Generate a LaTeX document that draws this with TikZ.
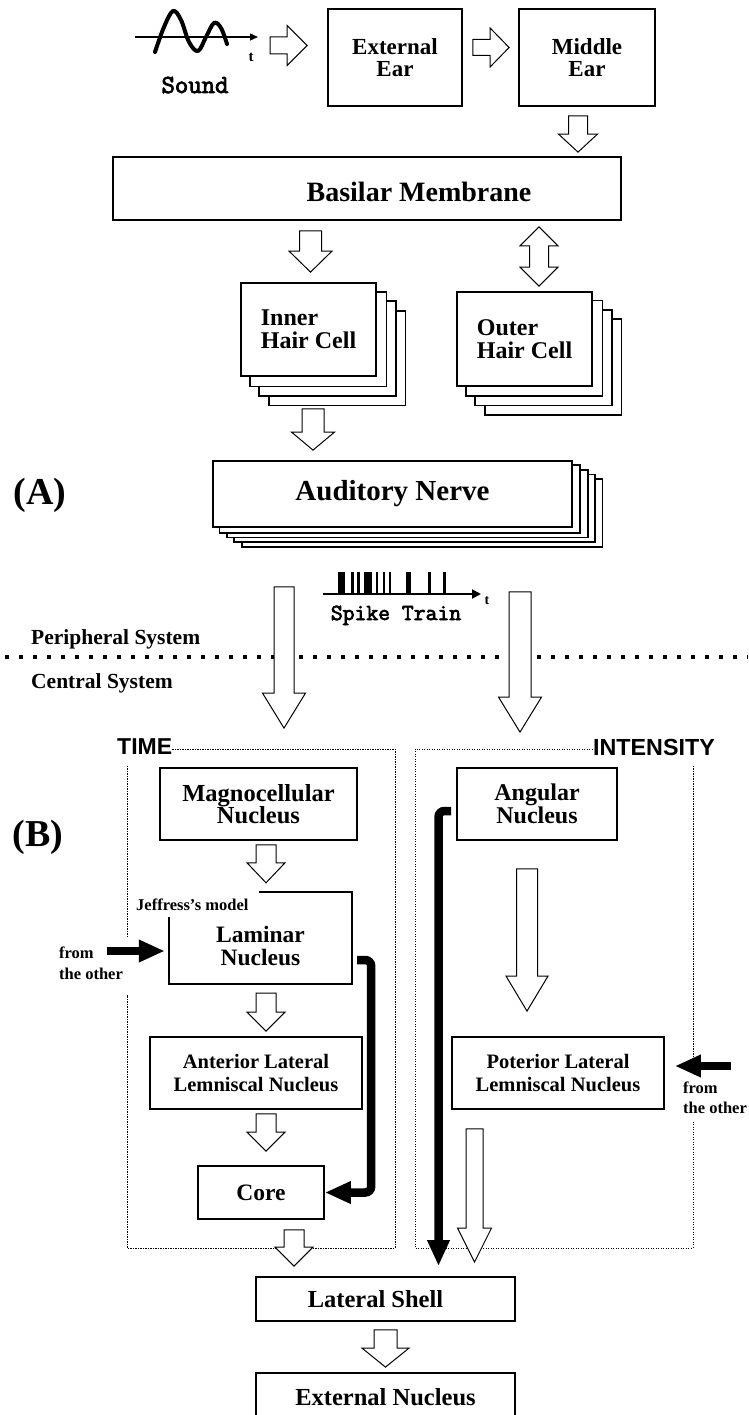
\documentclass[tikz,border=0pt]{standalone}
\usepackage{fontspec}
\setmainfont{Liberation Serif}
\setsansfont{Liberation Sans}
\newfontfamily\monob{Latin Modern Mono}[FakeBold=3]
\usetikzlibrary{arrows.meta,calc,backgrounds}
\begin{document}
\begin{tikzpicture}[x=1pt,y=-1pt,
  box/.style={draw, line width=1.8pt, fill=white, inner sep=0pt, align=center},
  fs/.style={font=\fontsize{#1}{22.5}\selectfont\bfseries},
  small/.style={font=\fontsize{16.5}{18}\selectfont\bfseries, inner sep=0pt},
  barrow/.style={draw, line width=1pt, fill=white, line join=miter},
  bdown/.style n args={3}{barrow, to path={let \p1=(\tikztostart), \p2=(\tikztotarget) in
     (\x1-#1pt,\y1) -- (\x1+#1pt,\y1) -- (\x1+#1pt,\y2+#3pt) -- (\x1+#2pt,\y2+#3pt) -- (\x1,\y2) -- (\x1-#2pt,\y2+#3pt) -- (\x1-#1pt,\y2+#3pt) -- cycle}},
  bright/.style n args={3}{barrow, to path={let \p1=(\tikztostart), \p2=(\tikztotarget) in
     (\x1,\y1-#1pt) -- (\x2-#3pt,\y1-#1pt) -- (\x2-#3pt,\y1-#2pt) -- (\x2,\y1) -- (\x2-#3pt,\y1+#2pt) -- (\x2-#3pt,\y1+#1pt) -- (\x1,\y1+#1pt) -- cycle}},
  bboth/.style n args={3}{barrow, to path={let \p1=(\tikztostart), \p2=(\tikztotarget) in
     (\x1,\y1) -- (\x1+#2pt,\y1-#3pt) -- (\x1+#1pt,\y1-#3pt) -- (\x1+#1pt,\y2+#3pt) -- (\x1+#2pt,\y2+#3pt) -- (\x1,\y2) -- (\x1-#2pt,\y2+#3pt) -- (\x1-#1pt,\y2+#3pt) -- (\x1-#1pt,\y1-#3pt) -- (\x1-#2pt,\y1-#3pt) -- cycle}},
  thickarrow/.style={line width=8.5pt, rounded corners=6pt, -{Triangle[length=26pt,width=21pt]}},
  dotbox/.style={line width=0.8pt, dash pattern=on 1.2pt off 1.3pt},
  stackbox/.style={line width=1.8pt, fill=white},
]
\useasboundingbox (0,0) rectangle (748,1415);
\begin{scope}[on background layer]
  \fill[white] (0,0) rectangle (748,1415);
\end{scope}
\clip (0,0) rectangle (748,1415);

% ---------- region labels and dotted regions ----------
\node[font=\fontsize{23}{23}\selectfont\sffamily\bfseries, anchor=west, inner sep=0pt] (tim) at (117,747) {TIME};
\node[font=\fontsize{23.3}{23}\selectfont\sffamily\bfseries, inner sep=0pt] (int) at (654,747) {INTENSITY};
\draw[dotbox] ([yshift=-2pt]tim.east) -- (395,749) -- (395,1248) -- (127,1248) -- (127,995);
\draw[dotbox] (127,937) -- (127,765);
\draw[dotbox] ([yshift=-2pt]int.west) -- (415,749) -- (415,1248) -- (693,1248) -- (693,1122);
\draw[dotbox] (693,1057) -- (693,765);
\draw[line width=3.5pt, dash pattern=on 3.5pt off 10.5pt] (5,657) -- (748,657);

\node[fs=21.5, anchor=base west, inner sep=0pt] (per) at (31,644) {Peripheral System};
\node[fs=21.5, anchor=base west, inner sep=0pt] (cen) at (31,688) {Central System};
\node[fs=38, inner sep=0pt] (labA) at (40,495) {(A)};
\node[fs=38, inner sep=0pt] (labB) at (38,837) {(B)};

% ---------- sound ----------
\draw[line width=1.2pt, -{Triangle[length=8pt,width=7pt]}] (135,37) -- (258,37);
\draw[line width=4pt, line cap=round, line join=round] plot[smooth, tension=0.6] coordinates {(155,52) (164,27) (173,11) (181,20) (189,42) (198,51) (206,37) (214,23) (221,28) (227,44)};
\node[fs=15, inner sep=0pt] (tsnd) at (251,57) {t};
\node[font=\fontsize{26}{26}\selectfont\monob, anchor=base, inner sep=0pt] (sound) at (195,93) {Sound};
\coordinate (sndout) at (270,45.5);

% ---------- peripheral boxes ----------
\node[box, fs=23, minimum width=134pt, minimum height=97pt] (extear) at (395,57.5) {External\\Ear};
\node[box, fs=23, minimum width=136pt, minimum height=97pt] (midear) at (587,57.5) {Middle\\Ear};
\node[box, minimum width=508pt, minimum height=63pt, label={[fs=28, xshift=52pt, yshift=-3.5pt]center:Basilar Membrane}] (basilar) at (367,188.5) {};
\node[box, fs=24, align=left, minimum width=135pt, minimum height=93pt] (ihc) at (308.5,329.5) {Inner\\Hair Cell};
\node[box, fs=24, align=left, minimum width=135pt, minimum height=94pt] (ohc) at (524.5,339) {Outer\\Hair Cell};
\node[box, fs=29, minimum width=359pt, minimum height=66pt] (an) at (392.5,494) {Auditory Nerve};

\begin{scope}[on background layer]
  \foreach \k in {3,2,1} {
    \draw[stackbox] ([xshift=\k*9.5pt, yshift=-\k*9.5pt]ihc.north west) rectangle ([xshift=\k*9.5pt, yshift=-\k*9.5pt]ihc.south east);
    \draw[stackbox] ([xshift=\k*9.5pt, yshift=-\k*9.3pt]ohc.north west) rectangle ([xshift=\k*9.5pt, yshift=-\k*9.3pt]ohc.south east);
  }
  \foreach \k in {4,3,2,1} {
    \draw[stackbox] ([xshift=\k*7.4pt, yshift=-\k*4.8pt]an.north west) rectangle ([xshift=\k*7.4pt, yshift=-\k*4.8pt]an.south east);
  }
\end{scope}

% ---------- spike train ----------
\draw[line width=2pt, -{Triangle[length=9pt,width=9pt]}] (323,594) -- (481,594);
\foreach \a/\b in {338/345, 351/354, 357/359.5, 364/372, 376/378, 383/385, 389/391, 406/411, 428/430.5, 443/445.5}
  \fill (\a,572) rectangle (\b,594);
\node[font=\fontsize{23}{23}\selectfont\monob, anchor=base, inner sep=0pt] (spk) at (396,620) {Spike Train};
\node[fs=14, inner sep=0pt] (tspk) at (487,601) {t};

% ---------- central boxes ----------
\node[box, fs=24.5, minimum width=197pt, minimum height=72pt] (magno) at (258.5,804) {Magnocellular\\Nucleus};
\node[minimum width=183pt, minimum height=92pt, inner sep=0pt, label={[fs=23.5, align=center, yshift=-8pt]center:Laminar\\Nucleus}] (lam) at (260.5,938) {};
\draw[line width=1.8pt] ([xshift=90pt]lam.north west) -| (lam.south east) -| ([yshift=67pt]lam.south west);
\node[small, anchor=base west] (jeff) at (136,910) {Jeffress’s model};
\node[box, fs=20.5, minimum width=212pt, minimum height=72pt] (alln) at (256,1073) {Anterior Lateral\\Lemniscal Nucleus};
\node[box, fs=23.5, minimum width=126pt, minimum height=53pt] (core) at (261,1192.5) {Core};
\node[box, minimum width=259pt, minimum height=44pt, label={[fs=24.5, xshift=-10pt]center:Lateral Shell}] (lshell) at (385.5,1299) {};
\node[box, fs=24.5, minimum width=259pt, minimum height=48pt] (extnuc) at (385.5,1397) {External Nucleus};
\node[box, fs=24, minimum width=160pt, minimum height=72pt] (ang) at (537,804) {Angular\\Nucleus};
\node[box, fs=20.5, minimum width=212pt, minimum height=72pt] (plln) at (558,1073) {Poterior Lateral\\Lemniscal Nucleus};

\node[small, anchor=base west] (fl1) at (59,958) {from};
\node[small, anchor=base west] (fl2) at (59,979) {the other};
\node[small, anchor=base west] (fr1) at (683,1093) {from};
\node[small, anchor=base west] (fr2) at (683,1113) {the other};

% ---------- block arrows ----------
\draw[bright={8.5}{20}{20}] (sndout) to ([xshift=-20pt,yshift=12pt]extear.west);
\draw[bright={8}{19.5}{19}] ([xshift=10pt,yshift=10pt]extear.east) to ([xshift=-9pt,yshift=10pt]midear.west);
\draw[bdown={9.5}{19.5}{18}] ([xshift=-9pt,yshift=-9pt]midear.south) to ([xshift=211pt,yshift=4pt]basilar.north);
\draw[bdown={11}{21.5}{21}] ([xshift=-56.5pt,yshift=-10pt]basilar.south) to ([yshift=10pt]ihc.north);
\draw[bboth={9.5}{19}{19}] ([xshift=172pt,yshift=-6pt]basilar.south) to ([yshift=5pt]ohc.north);
\draw[bdown={11}{21.5}{18}] ([xshift=4.5pt,yshift=-32pt]ihc.south) to ([yshift=10pt]an.north);
\draw[bdown={10}{21.5}{35}] ([xshift=-108.5pt,yshift=-59pt]an.south) to ([yshift=39pt]magno.north);
\draw[bdown={11}{21.5}{35}] ([xshift=127.5pt,yshift=-64pt]an.south) to ([yshift=35pt]ang.north);
\draw[bdown={10}{19}{20}] ([xshift=7.5pt,yshift=-4pt]magno.south) to ([yshift=9pt]lam.north);
\draw[bdown={10}{19}{19}] ([xshift=5.5pt,yshift=-9pt]lam.south) to ([yshift=5pt]alln.north);
\draw[bdown={10}{19}{19}] ([xshift=10pt,yshift=-4pt]alln.south) to ([yshift=14pt]core.north);
\draw[bdown={10}{19}{19}] ([xshift=33pt,yshift=-10pt]core.south) to ([yshift=10pt]lshell.north);
\draw[bdown={11.5}{23.5}{19}] ([yshift=-8pt]lshell.south) to ([yshift=5pt]extnuc.north);
\draw[bdown={10.5}{21}{35}] ([xshift=-10pt,yshift=-28pt]ang.south) to ([yshift=25pt]plln.north);
\draw[bdown={8.5}{17}{34}] ([xshift=-83.5pt,yshift=-19pt]plln.south) to ([yshift=14pt]lshell.north);

% ---------- thick black connectors ----------
\draw[thickarrow] ([xshift=5pt,yshift=-22pt]lam.east) -- ++(14,0) |- (core.east);
\draw[thickarrow] ([xshift=-5pt,yshift=-7pt]ang.west) -| ([xshift=53pt,yshift=10pt]lshell.north);
\coordinate (oL) at (107,951);
\draw[thickarrow] (oL) -- ([xshift=-4pt,yshift=-13pt]lam.west);
\coordinate (oR) at (731,1066);
\draw[thickarrow] (oR) -- ([xshift=10pt,yshift=7pt]plln.east);
\end{tikzpicture}
\end{document}
